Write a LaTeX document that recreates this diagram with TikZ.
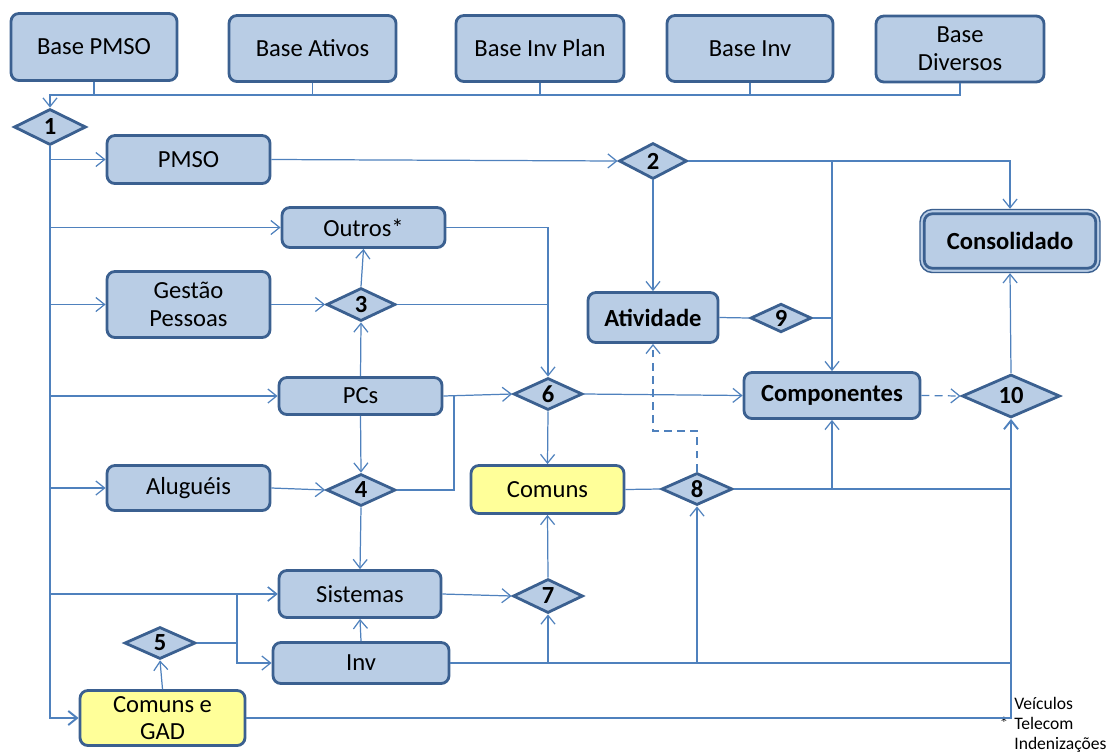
\documentclass[tikz,border=0pt]{standalone}
\usepackage{fontspec}
\setmainfont{Carlito}
\usetikzlibrary{shapes.geometric,arrows.meta,calc}
\definecolor{bfill}{HTML}{B9CDE5}
\definecolor{bdr}{HTML}{3B6090}
\definecolor{yfill}{HTML}{FFFF99}
\definecolor{cline}{HTML}{4F81BD}
\newcommand\mainsz{\fontsize{14}{15.8}\selectfont}
\begin{document}
\begin{tikzpicture}[x=0.02cm,y=-0.02cm,
  >={Straight Barb[length=5pt,width=8pt]},
  sz/.style 2 args={minimum width=#1*0.02cm, minimum height=#2*0.02cm},
  box/.style={draw=bdr, fill=bfill, line width=1.6pt, rounded corners=4.5pt, align=center, inner sep=1pt, font=\mainsz},
  ybox/.style={box, fill=yfill},
  bbox/.style={box, font=\mainsz\bfseries},
  dia/.style={diamond, draw=bdr, fill=bfill, line width=1.6pt, inner sep=0pt, font=\mainsz\bfseries},
  conn/.style={draw=cline, line width=0.7pt},
  dashconn/.style={conn, dash pattern=on 4.5pt off 3pt},
  trunk/.style={draw=cline, line width=1.1pt}]
\useasboundingbox (0,0) rectangle (1111,754);

% top bases
\node[box, sz={166}{67}] (bpmso) at (94,47) {Base PMSO};
\node[box, sz={167}{66}] (bativ) at (312.5,48.5) {Base Ativos};
\node[box, sz={168}{66}] (binvp) at (540,48.5) {Base Inv Plan};
\node[box, sz={166}{66}] (binv) at (750,48.5) {Base Inv};
\node[box, sz={168}{66}] (bdiv) at (960,49) {Base\\Diversos};

% diamonds
\node[dia, sz={72}{36}] (d1) at (50,127) {1};
\node[dia, sz={68}{36}] (d2) at (653,161) {2};
\node[dia, sz={69}{33}] (d3) at (361,304.5) {3};
\node[dia, sz={69}{32}] (d4) at (361,490) {4};
\node[dia, sz={71}{32}] (d5) at (160,643) {5};
\node[dia, sz={69}{32}] (d6) at (548,394) {6};
\node[dia, sz={70}{34}] (d7) at (548,596) {7};
\node[dia, sz={71}{32}] (d8) at (697,489) {8};
\node[dia, sz={61}{28}] (d9) at (781,318) {9};
\node[dia, sz={98}{43}] (d10) at (1011,396) {10};

% process boxes
\node[box, sz={163}{48}] (pmso) at (188.5,159.5) {PMSO};
\node[box, sz={163}{40}] (outros) at (363.5,227.5) {Outros*};
\node[box, sz={163}{66}] (gestao) at (188.5,304.5) {Gestão\\Pessoas};
\node[box, sz={163}{37}] (pcs) at (360.5,396) {PCs};
\node[box, sz={163}{45}] (alug) at (188.5,488) {Aluguéis};
\node[box, sz={162}{47}] (sist) at (360,594) {Sistemas};
\node[box, sz={176}{41}] (inv) at (361,663) {Inv};
\node[ybox, sz={165}{55}] (cgad) at (162.5,718) {Comuns e\\GAD};
\node[ybox, sz={153}{48}] (comuns) at (547.5,489.5) {Comuns};
\node[bbox, sz={130}{50}] (ativ) at (653,317.5) {Atividade};
\node[bbox, sz={176}{46}] (comp) at (832,395.5) {Componentes};
\node[box, line width=0.8pt, rounded corners=7pt, sz={180}{63}, font=\mainsz\bfseries] (consol) at (1010,241) {Consolidado};
\draw[draw=bdr, line width=1.6pt, rounded corners=4.5pt] ($(consol.north west)+(5,5)$) rectangle ($(consol.south east)+(-5,-5)$);

% footnote
\node[inner sep=0pt, font=\fontsize{10}{11.3}\selectfont] (star) at (1004,723) {*};
\node[anchor=west, align=left, inner sep=0pt, font=\fontsize{10}{11.3}\selectfont] (fn) at (1014,725) {Veículos\\Telecom\\Indenizações};

% coordinates
\coordinate (bus) at (0,95);
\coordinate (j4) at (454,395);
\coordinate (j5) at (237,643);
\coordinate (dj) at (697,431);

% top bus
\draw[conn,->] (bdiv.south) |- (d1.north |- bus) -- (d1.north);
\draw[conn] (bpmso.south) -- (bpmso.south |- bus);
\draw[conn] (bativ.south) -- (bativ.south |- bus);
\draw[conn] (binvp.south) -- (binvp.south |- bus);
\draw[conn] (binv.south) -- (binv.south |- bus);

% trunk
\draw[trunk,->] (d1.south) |- (cgad.west);
\draw[conn,->] (d1.south |- pmso.west) -- (pmso.west);
\draw[conn,->] (d1.south |- outros.west) -- (outros.west);
\draw[conn,->] (d1.south |- gestao.west) -- (gestao.west);
\draw[conn,->] (d1.south |- pcs.west) -- (pcs.west);
\draw[conn,->] (d1.south |- alug.west) -- (alug.west);
\draw[conn,->] (d1.south |- sist.west) -- (sist.west);

% PMSO / 2
\draw[conn,->] (pmso.east) -- (d2.west);
\draw[conn,->] (d2.east) -| (consol.north);
\draw[conn,->] (d2.east -| comp.north) -- (comp.north);
\draw[conn,->] (d2.south) -- (ativ.north);
\draw[conn] (ativ.east) -- (d9.west);
\draw[conn] (d9.east) -- (d9.east -| comp.north);

% 3 / outros / 6
\draw[conn,->] (outros.east) -| (d6.north);
\draw[conn] (d3.east) -- (d3.east -| d6.north);
\draw[conn,->] (d3.north) -- (outros.south);
\draw[conn,->] (gestao.east) -- (d3.west);
\draw[conn,->] (pcs.north) -- (d3.south);
\draw[conn,->] (pcs.east) -- (d6.west);
\draw[conn,->] (pcs.south) -- (d4.north);
\draw[conn,->] (alug.east) -- (d4.west);
\draw[conn] (d4.east) -| (j4);
\draw[conn,->] (d4.south) -- (sist.north);
\draw[conn,->] (d6.east) -- (comp.west);
\draw[conn,->] (d6.south) -- (comuns.north);

% 7, 5, inv
\draw[conn,->] (sist.east) -- (d7.west);
\draw[conn,->] (d7.north) -- (comuns.south);
\draw[conn,->] (inv.north) -- (sist.south);
\draw[conn,->] (cgad.north) -- (d5.south);
\draw[conn] (d5.east) -- (j5);
\draw[conn,->] (j5) |- (sist.west);
\draw[conn,->] (j5) |- (inv.west);
\draw[trunk,->] (inv.east) -| (d10.south);
\draw[conn,->] (inv.east -| d7.south) -- (d7.south);
\draw[conn,->] (inv.east -| d8.south) -- (d8.south);
\draw[conn] (cgad.east) -| (inv.east -| d10.south);

% 8, 10
\draw[conn] (comuns.east) -- (d8.west);
\draw[conn] (d8.east) -- (d8.east -| d10.south);
\draw[conn,->] (d8.east -| comp.south) -- (comp.south);
\draw[dashconn,->] (d8.north) -- (dj) -| (ativ.south);
\draw[dashconn,->] (comp.east) -- (d10.west);
\draw[conn,->] (d10.north) -- (consol.south);
\end{tikzpicture}
\end{document}
